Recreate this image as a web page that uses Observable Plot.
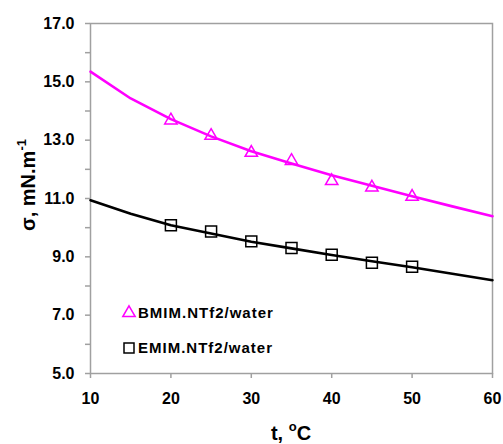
<!DOCTYPE html>
<html>
<head>
<meta charset="utf-8">
<script src="https://cdn.jsdelivr.net/npm/d3@7"></script>
<script src="https://cdn.jsdelivr.net/npm/@observablehq/plot@0.6"></script>
<style>
  html, body { margin: 0; padding: 0; background: #fff; }
  #chart { width: 503px; height: 444px; }
  svg { font-family: "Liberation Sans", Arial, sans-serif; }
</style>
</head>
<body>
<div id="chart"></div>
<script>
// ---- data ----
const tLine = [10, 15, 20, 25, 30, 35, 40, 45, 50, 55, 60];
const bmimLine = [15.35, 14.43, 13.72, 13.13, 12.62, 12.2, 11.8, 11.44, 11.08, 10.73, 10.39];
const emimLine = [10.94, 10.48, 10.08, 9.8, 9.52, 9.29, 9.06, 8.85, 8.64, 8.42, 8.2];
const tExp = [20, 25, 30, 35, 40, 45, 50];
const bmimExp = [13.68, 13.15, 12.57, 12.29, 11.6, 11.38, 11.06];
const emimExp = [10.08, 9.87, 9.53, 9.3, 9.07, 8.8, 8.66];
const seriesNames = ["BMIM.NTf2/water", "EMIM.NTf2/water"];
const xTicks = [10, 20, 30, 40, 50, 60];
const yTicks = [5, 7, 9, 11, 13, 15, 17];
const yMinorTicks = [6, 8, 10, 12, 14, 16];

const bLine = tLine.map((t, i) => ({t, v: bmimLine[i]}));
const eLine = tLine.map((t, i) => ({t, v: emimLine[i]}));
const bExp = tExp.map((t, i) => ({t, v: bmimExp[i]}));
const eExp = tExp.map((t, i) => ({t, v: emimExp[i]}));

const axisColor = "#a0a0a0";

const chart = Plot.plot({
  width: 503,
  height: 444,
  marginLeft: 90,
  marginRight: 11,
  marginTop: 23,
  marginBottom: 71,
  style: {fontFamily: "Liberation Sans, Arial, sans-serif", fontSize: "16px", fontWeight: "bold", background: "#fff", color: "#000"},
  x: {domain: [10, 60]},
  y: {domain: [5, 17]},
  marks: [
    Plot.frame({stroke: axisColor, strokeWidth: 1.5}),
    Plot.axisX({ticks: xTicks, tickSize: 5, tickPadding: 14, stroke: axisColor, strokeWidth: 1.5, fill: "#000", label: null, tickFormat: d => String(d)}),
    Plot.axisY({ticks: yTicks, tickSize: 5, tickPadding: 11, stroke: axisColor, strokeWidth: 1.5, fill: "#000", label: null, tickFormat: d => d.toFixed(1)}),
    Plot.axisY({ticks: yMinorTicks, tickSize: 5, stroke: axisColor, strokeWidth: 1.5, label: null, tickFormat: () => ""}),
    Plot.line(bLine, {x: "t", y: "v", stroke: "#ff00ff", strokeWidth: 2.6}),
    Plot.line(eLine, {x: "t", y: "v", stroke: "#000", strokeWidth: 2.6}),
    Plot.dot(bExp, {x: "t", y: "v", symbol: "triangle", r: 4.6, stroke: "#ff00ff", strokeWidth: 1.5, fill: "none"}),
    Plot.dot(eExp, {x: "t", y: "v", symbol: "square", r: 6.2, stroke: "#000", strokeWidth: 1.5, fill: "none"})
  ]
});
document.getElementById("chart").appendChild(chart);

const svg = d3.select(chart);
// axis titles
const yl = svg.append("text")
  .attr("transform", "translate(35,185) rotate(-90)")
  .attr("text-anchor", "middle")
  .style("font-size", "20px").style("font-weight", "bold").attr("fill", "#000");
yl.append("tspan").text("σ, mN.m");
yl.append("tspan").attr("dy", -9).style("font-size", "13px").text("-1");

const xl = svg.append("text")
  .attr("x", 291).attr("y", 440)
  .attr("text-anchor", "middle")
  .style("font-size", "20px").style("font-weight", "bold").attr("fill", "#000");
xl.append("tspan").text("t, ");
xl.append("tspan").attr("dy", -9).style("font-size", "13px").text("o");
xl.append("tspan").attr("dy", 9).text("C");

// legend
const leg = svg.append("g").style("font-size", "15px").style("font-weight", "bold").style("letter-spacing", "1px").attr("text-anchor", "start");
const legendItems = [
  {name: seriesNames[0], sym: d3.symbolTriangle, size: Math.PI * 4.6 * 4.6, color: "#ff00ff", y: 313},
  {name: seriesNames[1], sym: d3.symbolSquare, size: 100, color: "#000", y: 348}
];
legendItems.forEach(it => {
  leg.append("path")
    .attr("d", d3.symbol(it.sym, it.size)())
    .attr("transform", `translate(129,${it.y})`)
    .attr("fill", "none").attr("stroke", it.color).attr("stroke-width", 1.5);
  leg.append("text").attr("x", 138).attr("y", it.y).attr("dy", "0.35em").attr("text-anchor", "start").attr("fill", "#000").text(it.name);
});
</script>
</body>
</html>
